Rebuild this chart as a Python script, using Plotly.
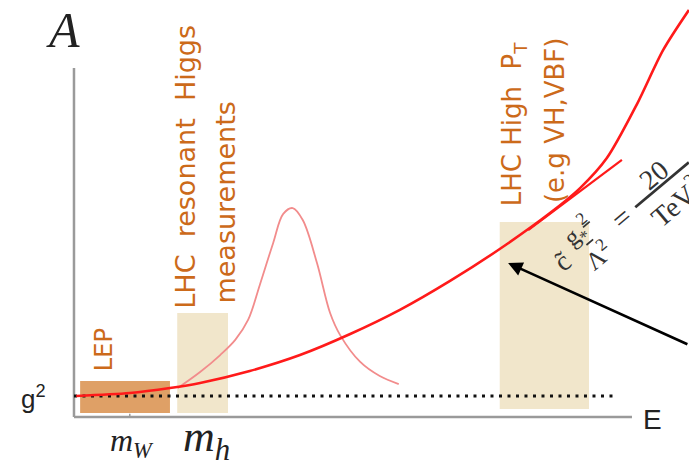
import plotly.graph_objects as go

# Effective coupling A versus energy E (arbitrary units, g^2 normalised to 1)
curve_E = [0.04, 1.0, 1.72, 2.26, 3.15, 4.05, 4.95, 5.84, 6.74, 7.63, 8.53, 9.07, 9.55, 10.09, 10.56, 11.02]
curve_A = [1.0, 1.14, 1.38, 1.62, 2.19, 2.95, 3.95, 5.10, 6.48, 8.0, 9.71, 10.90, 12.33, 14.90, 17.48, 19.38]

# Higgs resonance peak
peak_E = [1.86, 2.26, 2.62, 2.89, 3.12, 3.33, 3.57, 3.75, 3.92, 4.10, 4.355, 4.59, 4.77, 5.13, 5.48, 5.82]
peak_A = [1.38, 2.14, 2.95, 3.67, 4.62, 6.29, 8.29, 9.67, 9.95, 9.38, 7.33, 4.95, 3.90, 2.62, 1.95, 1.57]

# Linear growth c g*^2/Lambda^2 = 20/TeV^2
slope_E = [8.14, 9.82]
slope_A = [8.9, 12.24]

# SM coupling level
g2_level = 1.0
g2_E = [0.0, 9.73]

# Measurement regions: [E_min, E_max, A_min, A_max]
region_names = ["LEP", "LHC resonant", "LHC high pT"]
region_E0 = [0.11, 1.85, 7.63]
region_E1 = [1.72, 2.76, 9.23]
region_A0 = [0.19, 0.19, 0.38]
region_A1 = [1.71, 4.95, 9.29]
region_colors = ["#dfa066", "#f1e6cb", "#f1e6cb"]

# Axis extents and tick positions
E_axis_end = 10.0
A_axis_end = 16.62
m_W = 1.0
m_h = 2.35

E_range = [-1.326, 11.022]
A_range = [-2.238, 19.857]

orange = "#cc6a1a"
ink = "#222222"
formula_ink = "#333333"
formula_angle = -40

fig = go.Figure()

fig.add_trace(go.Scatter(x=g2_E, y=[g2_level, g2_level], mode="lines",
                         line=dict(color="#111111", width=3.2, dash="3px,5.5px"),
                         hoverinfo="skip"))
fig.add_trace(go.Scatter(x=peak_E, y=peak_A, mode="lines", line_shape="spline",
                         line=dict(color="#f28c8c", width=1.8), hoverinfo="skip"))
fig.add_trace(go.Scatter(x=slope_E, y=slope_A, mode="lines",
                         line=dict(color="#ff1a1a", width=2.2), hoverinfo="skip"))
fig.add_trace(go.Scatter(x=curve_E, y=curve_A, mode="lines", line_shape="spline",
                         line=dict(color="#ff1a1a", width=2.6, smoothing=0.8), hoverinfo="skip"))

shapes = []
for x0, x1, y0, y1, c in zip(region_E0, region_E1, region_A0, region_A1, region_colors):
    shapes.append(dict(type="rect", xref="x", yref="y", x0=x0, x1=x1, y0=y0, y1=y1,
                       fillcolor=c, line=dict(width=0), layer="below"))
# axes
shapes.append(dict(type="line", xref="x", yref="y", x0=0, x1=0, y0=0, y1=A_axis_end,
                   line=dict(color="#9a9a9a", width=2.5), layer="below"))
shapes.append(dict(type="line", xref="x", yref="y", x0=0, x1=E_axis_end, y0=0, y1=0,
                   line=dict(color="#9a9a9a", width=2.5), layer="below"))
shapes.append(dict(type="line", xref="x", yref="y", x0=m_W, x1=m_W, y0=0, y1=0.15,
                   line=dict(color="#9a9a9a", width=1.5), layer="below"))

annotations = [
    dict(x=-0.2, y=18.45, text="<i>A</i>",
         font=dict(family="Liberation Serif", size=50, color=ink)),
    dict(x=-0.73, y=0.95, text="g<sup>2</sup>",
         font=dict(family="Liberation Sans", size=26, color=ink)),
    dict(x=10.36, y=-0.14, text="E",
         font=dict(family="Liberation Sans", size=28, color=ink)),
    dict(x=1.04, y=-1.2, text="<i>m<sub>W</sub></i>",
         font=dict(family="Liberation Serif", size=32, color=ink)),
    dict(x=2.37, y=-1.05, text="<i>m<sub>h</sub></i>",
         font=dict(family="Liberation Serif", size=44, color=ink)),
    dict(x=0.54, y=3.19, text="LEP", textangle=-90,
         font=dict(family="DejaVu Sans", size=24, color=orange)),
    dict(x=2.0, y=11.9, text="LHC  resonant  Higgs", textangle=-90,
         font=dict(family="DejaVu Sans", size=27, color=orange)),
    dict(x=2.72, y=10.2, text="measurements", textangle=-90,
         font=dict(family="DejaVu Sans", size=27, color=orange)),
    dict(x=7.87, y=13.95, text="LHC High  P<sub>T</sub>", textangle=-90,
         font=dict(family="DejaVu Sans", size=26, color=orange)),
    dict(x=8.62, y=14.14, text="(e.g VH,VBF)", textangle=-90,
         font=dict(family="DejaVu Sans", size=26, color=orange)),
    dict(x=8.75, y=7.4, text="c\u0303", textangle=formula_angle,
         font=dict(family="Liberation Serif", size=28, color=formula_ink)),
    dict(x=9.2, y=8.35, text="<u>g<sub>*</sub><sup>2</sup></u><br>\u039b<sup>2</sup>",
         textangle=formula_angle,
         font=dict(family="Liberation Serif", size=25, color=formula_ink)),
    dict(x=9.82, y=9.5, text="=", textangle=formula_angle,
         font=dict(family="Liberation Serif", size=30, color=formula_ink)),
    dict(x=10.6, y=10.9, text="<u>\u2002 20 \u2002</u><br>TeV<sup>2</sup>",
         textangle=formula_angle,
         font=dict(family="Liberation Serif", size=28, color=formula_ink)),
    dict(x=7.78, y=7.33, ax=11.02, ay=3.43, xref="x", yref="y", axref="x", ayref="y",
         text="", showarrow=True, arrowhead=2, arrowsize=1.1, arrowwidth=2.6,
         arrowcolor="#000000"),
]
for a in annotations:
    a.setdefault("showarrow", False)
    a.setdefault("xref", "x")
    a.setdefault("yref", "y")
    a.setdefault("xanchor", "center")
    a.setdefault("yanchor", "middle")

fig.update_layout(
    width=689, height=464,
    margin=dict(l=0, r=0, t=0, b=0),
    paper_bgcolor="white", plot_bgcolor="white",
    showlegend=False,
    xaxis=dict(range=E_range, visible=False, fixedrange=True),
    yaxis=dict(range=A_range, visible=False, fixedrange=True),
    shapes=shapes, annotations=annotations,
)

fig.write_html("out.html")
